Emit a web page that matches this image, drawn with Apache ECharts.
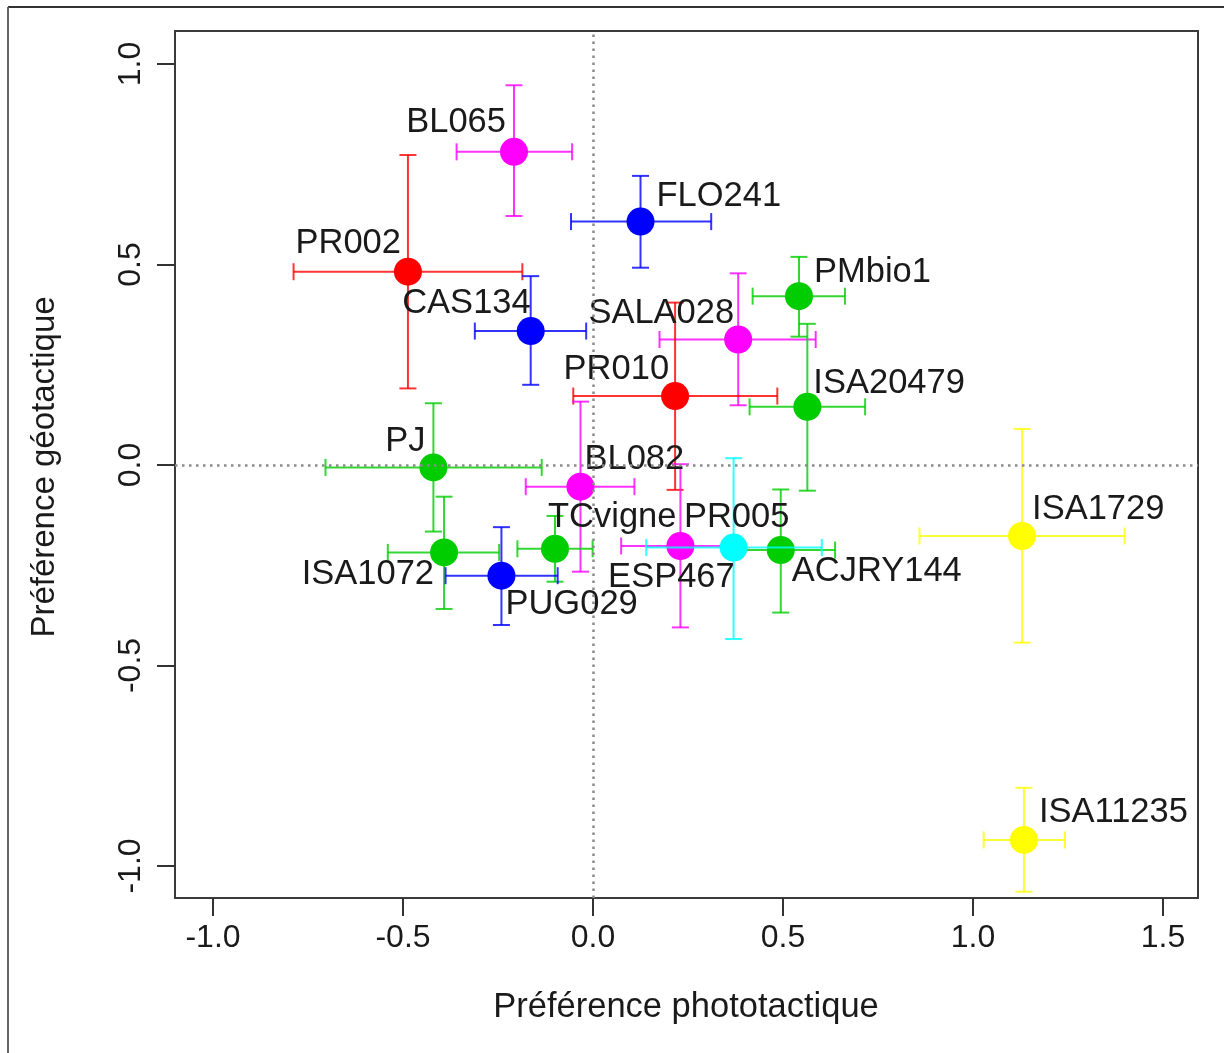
<!DOCTYPE html>
<html>
<head>
<meta charset="utf-8">
<script src="https://cdn.jsdelivr.net/npm/echarts@6/dist/echarts.min.js"></script>
<style>
html,body{margin:0;padding:0;background:#fff;}
#chart{width:1224px;height:1053px;}
</style>
</head>
<body>
<div id="chart"></div>
<script>
// ---- data ----
var names = ['BL065','FLO241','PR002','CAS134','PMbio1','SALA028','PR010','ISA20479','PJ','BL082','TCvigne','ISA1072','PUG029','ESP467','ACJRY144','PR005','ISA1729','ISA11235'];
var xVals = [-0.208, 0.125, -0.487, -0.164, 0.542, 0.382, 0.216, 0.564, -0.420, -0.033, -0.100, -0.392, -0.241, 0.230, 0.494, 0.370, 1.129, 1.134];
var yVals = [0.781, 0.607, 0.482, 0.334, 0.421, 0.313, 0.172, 0.145, -0.006, -0.054, -0.209, -0.218, -0.276, -0.202, -0.212, -0.206, -0.177, -0.935];
var xLow  = [-0.359, -0.058, -0.788, -0.311, 0.420, 0.175, -0.052, 0.412, -0.704, -0.177, -0.199, -0.540, -0.388, 0.074, 0.370, 0.140, 0.859, 1.028];
var xHigh = [-0.055, 0.311, -0.186, -0.018, 0.663, 0.586, 0.485, 0.716, -0.135, 0.109, -0.001, -0.247, -0.093, 0.365, 0.637, 0.602, 1.399, 1.242];
var yLow  = [0.621, 0.492, 0.191, 0.200, 0.320, 0.149, -0.062, -0.064, -0.166, -0.266, -0.291, -0.359, -0.399, -0.405, -0.368, -0.434, -0.443, -1.064];
var yHigh = [0.947, 0.721, 0.773, 0.471, 0.519, 0.478, 0.405, 0.352, 0.154, 0.158, -0.127, -0.079, -0.155, 0.002, -0.061, 0.017, 0.090, -0.805];
var xTicks = [-1.0, -0.5, 0.0, 0.5, 1.0, 1.5];
var yTicks = [-1.0, -0.5, 0.0, 0.5, 1.0];

// ---- styles ----
var pointColors = ['#FF00FF','#0000FF','#FF0000','#0000FF','#00CD00','#FF00FF','#FF0000','#00CD00','#00CD00','#FF00FF','#00CD00','#00CD00','#0000FF','#FF00FF','#00CD00','#00FFFF','#FFFF00','#FFFF00'];
// label placement relative to point centre: [align, dx, dy]
var labelPlace = [['right',-8,-29],['left',16,-25],['right',-7,-28],['right',0,-28],['left',15,-24],['right',-4,-26],['right',-6,-27],['left',6,-23],['right',-8,-26],['left',4,-27],['left',-7,-31],['right',-10,22],['left',4,29],['center',-9,31],['left',11,21],['center',3,-30],['left',10,-26],['left',15,-27]];

var FONT = '"Liberation Sans", Arial, Helvetica, sans-serif';
var TXT = '#1a1a1a';

var rows = names.map(function(n, i){ return [xVals[i], yVals[i], xLow[i], xHigh[i], yLow[i], yHigh[i], i]; });

var chart = echarts.init(document.getElementById('chart'), null, {renderer:'canvas'});

function renderPoint(params, api){
  var i = api.value(6);
  var c = api.coord([api.value(0), api.value(1)]);
  var l = api.coord([api.value(2), api.value(1)]);
  var r = api.coord([api.value(3), api.value(1)]);
  var b = api.coord([api.value(0), api.value(4)]);
  var t = api.coord([api.value(0), api.value(5)]);
  var col = pointColors[i];
  var cap = 8.5;
  var ls = {stroke: col, lineWidth: 2, opacity: 0.8};
  var segs = [
    [l[0], l[1], r[0], r[1]],
    [l[0], l[1]-cap, l[0], l[1]+cap],
    [r[0], r[1]-cap, r[0], r[1]+cap],
    [t[0], t[1], b[0], b[1]],
    [t[0]-cap, t[1], t[0]+cap, t[1]],
    [b[0]-cap, b[1], b[0]+cap, b[1]]
  ];
  var children = segs.map(function(s){
    return {type:'line', shape:{x1:s[0], y1:s[1], x2:s[2], y2:s[3]}, style: ls};
  });
  children.push({type:'circle', shape:{cx:c[0], cy:c[1], r:14}, style:{fill: col}});
  return {type:'group', children: children};
}

function renderLabel(params, api){
  var i = api.value(6);
  var c = api.coord([api.value(0), api.value(1)]);
  var p = labelPlace[i];
  return {type:'text', x: c[0] + p[1], y: c[1] + p[2],
    style:{text: names[i], fill: TXT, font: '34.5px ' + FONT, textAlign: p[0], textVerticalAlign: 'middle'}};
}

var option = {
  backgroundColor: '#ffffff',
  animation: false,
  grid: {left: 175, right: 26, top: 31, bottom: 155, show: true, borderColor: '#3a3a3a', borderWidth: 2, backgroundColor: 'transparent'},
  xAxis: {
    type: 'value', min: -1.1, max: 1.592,
    axisLine: {show: false, onZero: false},
    splitLine: {show: false},
    axisTick: {show: true, length: 18, inside: false, customValues: xTicks, lineStyle: {color: '#333', width: 2}},
    axisLabel: {show: true, customValues: xTicks, margin: 24, color: TXT, fontSize: 32, fontFamily: FONT,
      formatter: function(v){ return v.toFixed(1); }}
  },
  yAxis: {
    type: 'value', min: -1.0798, max: 1.0823,
    axisLine: {show: false, onZero: false},
    splitLine: {show: false},
    axisTick: {show: true, length: 18, inside: false, customValues: yTicks, lineStyle: {color: '#333', width: 2}},
    axisLabel: {show: true, customValues: yTicks, rotate: 90, margin: 28, color: TXT, fontSize: 32, fontFamily: FONT,
      formatter: function(v){ return v.toFixed(1); }}
  },
  graphic: [
    {type:'line', shape:{x1:8, y1:7, x2:1224, y2:7}, style:{stroke:'#333', lineWidth:2}},
    {type:'line', shape:{x1:8, y1:7, x2:8, y2:1053}, style:{stroke:'#666', lineWidth:2}},
    {type:'text', x: 686, y: 1007, style:{text:'Préférence phototactique', font:'34.5px ' + FONT, fill: TXT, textAlign:'center', textVerticalAlign:'middle'}},
    {type:'text', x: 45, y: 467, rotation: Math.PI/2, style:{text:'Préférence géotactique', font:'33px ' + FONT, fill: TXT, textAlign:'center', textVerticalAlign:'middle'}}
  ],
  series: [
    {
      type: 'line', data: [], silent: true,
      markLine: {
        silent: true, symbol: ['none','none'], label: {show: false},
        lineStyle: {color: '#8a8a8a', type: [2.5, 4.5], width: 2.5},
        data: [{xAxis: 0}, {yAxis: 0}]
      }
    },
    {
      type: 'custom', data: rows, renderItem: renderPoint,
      encode: {x: 0, y: 1}, clip: false, z: 3
    },
    {
      type: 'custom', data: rows, renderItem: renderLabel,
      encode: {x: 0, y: 1}, clip: false, z: 4
    }
  ]
};
chart.setOption(option);
</script>
</body>
</html>
